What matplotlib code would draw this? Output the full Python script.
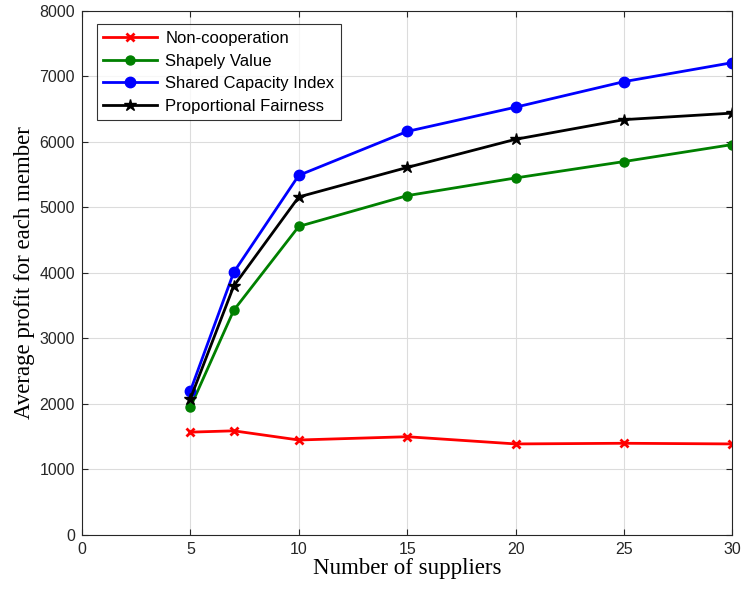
import numpy as np
import matplotlib.pyplot as plt

# Number of suppliers and average profit per member for each scheme
suppliers = [5, 7, 10, 15, 20, 25, 30]
non_coop = [1570, 1590, 1450, 1500, 1390, 1400, 1390]
shapley = [1950, 3430, 4710, 5180, 5450, 5700, 5960]
shared_cap = [2200, 4010, 5490, 6160, 6530, 6920, 7210]
prop_fair = [2080, 3800, 5160, 5610, 6040, 6340, 6440]

plt.rcParams['font.family'] = ['Liberation Sans', 'DejaVu Sans']

fig = plt.figure(figsize=(7.42, 5.92), dpi=100)
ax = fig.add_axes([0.1105, 0.0963, 0.8765, 0.8853])

ax.plot(suppliers, non_coop, color='#ff0000', marker='x', ms=6, mew=2, lw=2, label='Non-cooperation')
ax.plot(suppliers, shapley, color='#008000', marker='o', ms=6.5, lw=2, label='Shapely Value')
ax.plot(suppliers, shared_cap, color='#0000ff', marker='o', ms=7.5, lw=2, label='Shared Capacity Index')
ax.plot(suppliers, prop_fair, color='black', marker='*', ms=9, lw=2, label='Proportional Fairness')

ax.set_xlim(0, 30)
ax.set_ylim(0, 8000)
ax.set_xticks(np.arange(0, 31, 5))
ax.set_yticks(np.arange(0, 8001, 1000))
ax.grid(True, color='#dcdcdc', lw=0.8)
ax.set_axisbelow(True)
ax.tick_params(direction='in', top=True, right=True, labelsize=11.5,
               labelcolor='#262626', color='#262626', length=4, pad=5)
for s in ax.spines.values():
    s.set_color('#262626')
    s.set_linewidth(0.8)

ax.set_xlabel('Number of suppliers', family='Liberation Serif', fontsize=16.5, labelpad=1)
ax.set_ylabel('Average profit for each member', family='Liberation Serif', fontsize=16.5, labelpad=3)

leg = ax.legend(loc='upper left', fontsize=12, frameon=True, fancybox=False,
                edgecolor='black', handlelength=3.2, handletextpad=0.5,
                borderpad=0.4, labelspacing=0.45, bbox_to_anchor=(0.01, 0.99))
leg.get_frame().set_linewidth(0.8)

fig.savefig('out.png', dpi=100)
